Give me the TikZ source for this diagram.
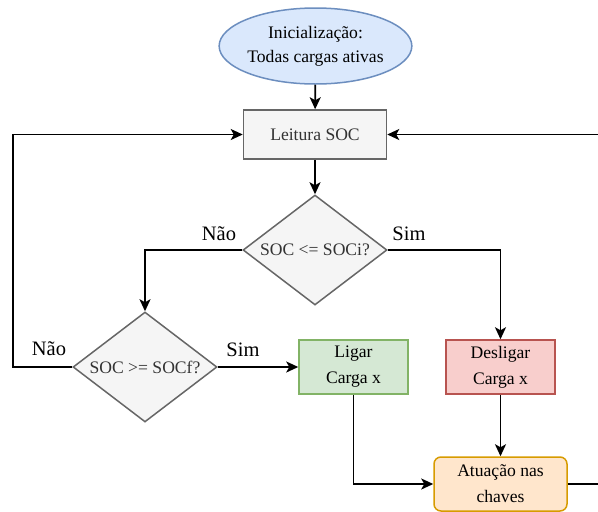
\documentclass[tikz,border=0pt]{standalone}
\usepackage{fontspec}
\setmainfont{Liberation Serif}
\usetikzlibrary{shapes.geometric,arrows.meta}

\definecolor{initFill}{HTML}{DAE8FC}
\definecolor{initDraw}{HTML}{6C8EBF}
\definecolor{greyFill}{HTML}{F5F5F5}
\definecolor{greyDraw}{HTML}{666666}
\definecolor{greyText}{HTML}{333333}
\definecolor{onFill}{HTML}{D5E8D4}
\definecolor{onDraw}{HTML}{82B366}
\definecolor{offFill}{HTML}{F8CECC}
\definecolor{offDraw}{HTML}{B85450}
\definecolor{actFill}{HTML}{FFE6CC}
\definecolor{actDraw}{HTML}{D79B00}

\begin{document}
\begin{tikzpicture}[x=1pt, y=-1pt,
        txt/.style={font=\fontsize{17.6}{26}\selectfont, align=center, inner sep=0pt, line width=1.5pt},
        greybox/.style={txt, draw=greyDraw, fill=greyFill, text=greyText},
        decision/.style={greybox, shape=diamond, aspect=1.31, minimum width=144pt, minimum height=110pt},
        answer/.style={font=\fontsize{20.5}{24}\selectfont, anchor=base, inner sep=0pt},
        flow/.style={line width=1.8pt, -{Stealth[length=12pt,width=11pt,inset=3pt]}}]

        \clip (0,0) rectangle (598,512);

        \coordinate (leftrail) at (13,0);
        \coordinate (rightrail) at (620,0);

        \node[txt, ellipse, draw=initDraw, fill=initFill, minimum width=175pt, minimum height=76pt,
              font=\fontsize{17.6}{24}\selectfont] (init) at (315.5,46)
              {Inicialização:\\Todas cargas ativas};
        \node[greybox, minimum width=143pt, minimum height=49pt] (leitura) at (315,134.5) {Leitura SOC};
        \node[decision] (socI) at (315,250) {SOC <= SOCi?};
        \node[decision] (socF) at (145,367) {SOC >= SOCf?};
        \node[txt, draw=onDraw, fill=onFill, minimum width=109pt, minimum height=54pt] (ligar) at (353.5,367) {Ligar\\Carga x};
        \node[txt, draw=offDraw, fill=offFill, minimum width=109pt, minimum height=54pt] (desligar) at (500.5,367) {Desligar\\Carga x};
        \node[txt, draw=actDraw, fill=actFill, rounded corners=7pt, minimum width=133pt, minimum height=54pt] (atuacao) at (500.5,484) {Atuação nas\\chaves};

        \draw[flow] (init) -- (leitura);
        \draw[flow] (leitura) -- (socI);
        \draw[flow] (socI.west) -| (socF.north);
        \draw[flow] (socI.east) -| (desligar.north);
        \draw[flow] (socF.east) -- (ligar.west);
        \draw[flow] (socF.west) -- (socF.west -| leftrail) |- (leitura.west);
        \draw[flow] (ligar.south) |- (atuacao.west);
        \draw[flow] (desligar) -- (atuacao);
        \draw[flow] (atuacao.east) -- (atuacao.east -| rightrail) |- (leitura.east);

        \node[answer] at (219,240) {Não};
        \node[answer] at (409,240) {Sim};
        \node[answer] at (49,355) {Não};
        \node[answer] at (243,356) {Sim};

    \end{tikzpicture}
\end{document}
